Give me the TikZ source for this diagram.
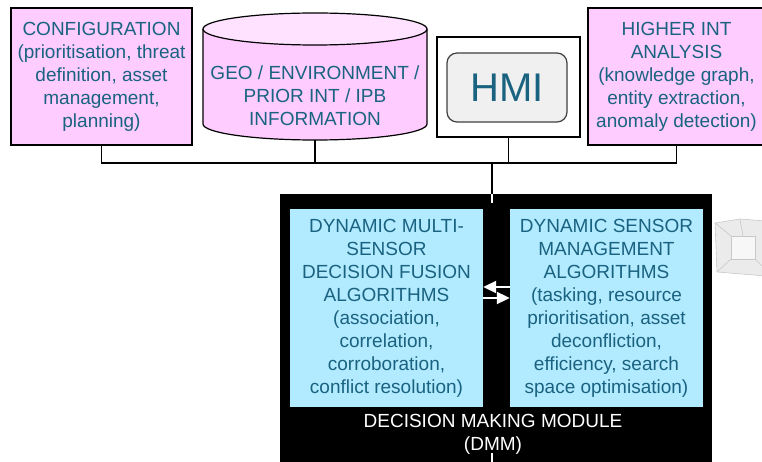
\documentclass[tikz,border=0pt]{standalone}
\usepackage{fontspec}
\setmainfont{Liberation Sans}
\usetikzlibrary{arrows.meta}
\definecolor{inttext}{RGB}{26,99,128}
\definecolor{pinkfill}{RGB}{255,204,255}
\definecolor{pinklight}{RGB}{255,226,255}
\definecolor{bluefill}{RGB}{178,234,255}
\definecolor{hmifill}{RGB}{240,240,240}
\definecolor{cubegrey}{RGB}{200,200,200}

\begin{document}
\begin{tikzpicture}[x=1pt,y=1pt,
  every node/.style={font=\fontsize{19}{23}\selectfont,text=inttext,align=center,inner sep=0pt},
  intbox/.style={fill=pinkfill,draw=black,line width=1.5pt},
  panel/.style={fill=bluefill,minimum width=193,minimum height=198},
  link/.style={draw=black,line width=1.2pt},
  flow/.style={white,line width=2pt,-{Triangle[length=13pt,width=12pt]}}]
\useasboundingbox (0,0) rectangle (762,-462);

\coordinate (bus) at (0,-163);
\coordinate (dmmin) at (492,-163);
\coordinate (dmmout) at (492,-462);

% decision making module (drawn first, panels go on top)
\node (dmm) at (496,-333) [fill=black,minimum width=432,minimum height=278] {};

% cylinder
\fill[pinkfill] (203,-29) -- (203,-124) arc[start angle=180,end angle=360,x radius=112,y radius=16] -- (427,-29) -- cycle;
\draw[line width=1.2pt] (203,-29) -- (203,-124) arc[start angle=180,end angle=360,x radius=112,y radius=16] -- (427,-29);
\filldraw[fill=pinklight,line width=1.2pt] (315,-29) ellipse (112 and 16);
\node (geo) at (315,-77) [minimum width=224,minimum height=126] {};
\node (geotext) at (315,-96) {GEO / ENVIRONMENT /\\PRIOR INT / IPB\\INFORMATION};

\node (config) at (101.5,-76.5) [intbox,minimum width=181,minimum height=137] {CONFIGURATION\\(prioritisation, threat\\definition, asset\\management,\\planning)};
\node (higher) at (676.5,-76.5) [intbox,minimum width=177,minimum height=137] {HIGHER INT\\ANALYSIS\\(knowledge graph,\\entity extraction,\\anomaly detection)};

\node (hmiframe) at (508.5,-87) [fill=white,draw=black,line width=1.2pt,minimum width=143,minimum height=100] {};
\node (hmi) at (507,-87.5) [fill=hmifill,draw=black!75,line width=1.2pt,rounded corners=10pt,minimum width=120,minimum height=69,font=\fontsize{40}{44}\selectfont] {HMI};

% bus
\draw[link] (config.south) |- (bus -| higher.south) -- (higher.south);
\draw[link] (geo.south) -- (geo.south |- bus);
\draw[link] (hmiframe.south) -- (hmiframe.south |- bus);
\draw[link] (dmmin) -- (dmmin |- dmm.north);
\draw[white,line width=1.2pt] (dmmin |- dmm.north) -- ++(0,-9);

\node (fusion) at (386.5,-308) [panel] {DYNAMIC MULTI-\\SENSOR\\DECISION FUSION\\ALGORITHMS\\(association,\\correlation,\\corroboration,\\conflict resolution)};
\node (sensormgmt) at (606.5,-308) [panel] {DYNAMIC SENSOR\\MANAGEMENT\\ALGORITHMS\\(tasking, resource\\prioritisation, asset\\deconfliction,\\efficiency, search\\space optimisation)};

\draw[flow] ([yshift=21]sensormgmt.west) -- ([yshift=21]fusion.east);
\draw[flow] ([yshift=10]fusion.east) -- ([yshift=10]sensormgmt.west);

\node (dmmlabel) at (493,-434) [text=white] {DECISION MAKING MODULE\\(DMM)};
\draw[white,line width=1.2pt] (dmmout) -- ++(0,9);

% cube icon at the edge
\filldraw[fill=black!8,draw=cubegrey,line width=0.6pt] (715,-223) -- (740,-219) -- (766,-221) -- (766,-276) -- (717,-272) -- cycle;
\filldraw[fill=black!3,draw=cubegrey,line width=0.6pt] (731,-236) rectangle (755,-259);
\draw[cubegrey,line width=0.6pt] (715,-223) -- (731,-236) (717,-272) -- (731,-259) (740,-219) -- (743,-236) (766,-270) -- (755,-259);
\end{tikzpicture}
\end{document}
